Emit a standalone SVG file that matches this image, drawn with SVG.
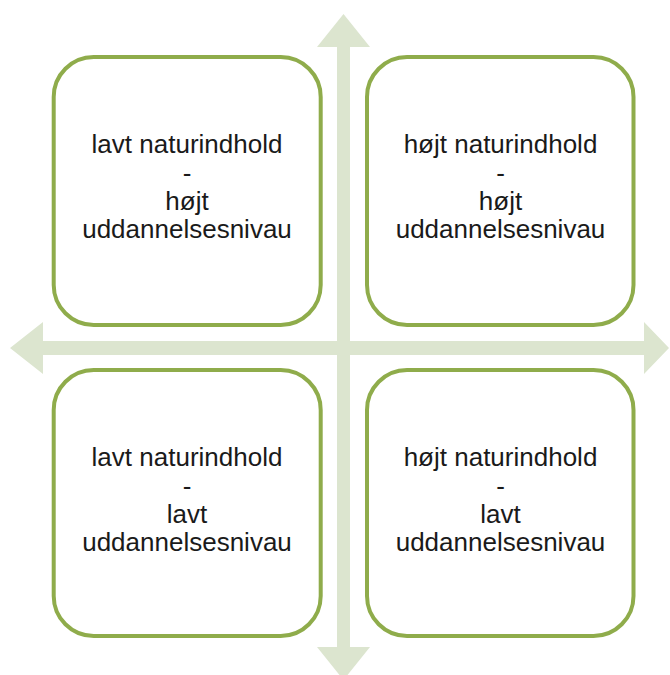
<svg xmlns="http://www.w3.org/2000/svg" width="670" height="675" viewBox="0 0 670 675">
<style>
.box{fill:#ffffff;stroke:#8FAC4B;stroke-width:4}
.arrow{fill:#DCE5CF;stroke:none}
text{font-family:"Liberation Sans",Arial,sans-serif;font-size:26px;fill:#1a1a1a;text-anchor:middle}
</style>
<rect width="670" height="675" fill="#ffffff"/>
<g id="connectors">
<polygon class="arrow" points="343.5,14 370,47 350,47 350,647 370,647 343.5,680 317,647 337,647 337,47 317,47"/>
<polygon class="arrow" points="10,348 43,322 43,341 644,341 644,322 669,348 644,374 644,355 43,355 43,374"/>
</g>
<g id="node-tl">
<rect class="box" x="53.7" y="57" width="267" height="268" rx="40"/>
<text x="187" y="153">lavt naturindhold</text>
<text x="187" y="181.5">-</text>
<text x="187" y="210">højt</text>
<text x="187" y="238">uddannelsesnivau</text>
</g>
<g id="node-tr">
<rect class="box" x="367" y="57" width="266.5" height="268" rx="40"/>
<text x="500.5" y="153">højt naturindhold</text>
<text x="500.5" y="181.5">-</text>
<text x="500.5" y="210">højt</text>
<text x="500.5" y="238">uddannelsesnivau</text>
</g>
<g id="node-bl">
<rect class="box" x="53.7" y="370" width="267" height="266" rx="40"/>
<text x="187" y="466">lavt naturindhold</text>
<text x="187" y="494.5">-</text>
<text x="187" y="523">lavt</text>
<text x="187" y="551">uddannelsesnivau</text>
</g>
<g id="node-br">
<rect class="box" x="367" y="370" width="266.5" height="266" rx="40"/>
<text x="500.5" y="466">højt naturindhold</text>
<text x="500.5" y="494.5">-</text>
<text x="500.5" y="523">lavt</text>
<text x="500.5" y="551">uddannelsesnivau</text>
</g>
</svg>
